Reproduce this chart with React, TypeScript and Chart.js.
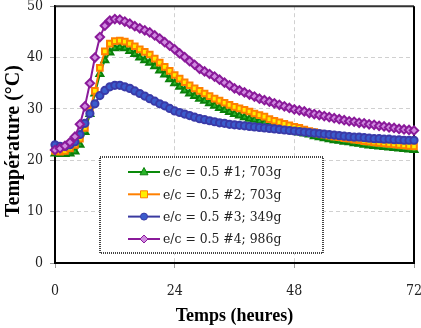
import React, { useEffect, useRef } from "react";
import { Chart, registerables } from "chart.js";

Chart.register(...registerables);

const HOURS = [
  0, 1, 2, 3, 4, 5, 6, 7, 8, 9, 10, 11, 12, 13, 14, 15, 16, 17, 18, 19, 20, 21, 22, 23, 24,
  25, 26, 27, 28, 29, 30, 31, 32, 33, 34, 35, 36, 37, 38, 39, 40, 41, 42, 43, 44, 45, 46, 47, 48,
  49, 50, 51, 52, 53, 54, 55, 56, 57, 58, 59, 60, 61, 62, 63, 64, 65, 66, 67, 68, 69, 70, 71, 72,
];

const SERIES_NAMES = [
  "e/c = 0.5 #1; 703g",
  "e/c = 0.5 #2; 703g",
  "e/c = 0.5 #3; 349g",
  "e/c = 0.5 #4; 986g",
];

const TEMP_1 = [
  21.3, 21.2, 21.2, 21.3, 21.7, 23.0, 25.5, 29.0, 33.0, 36.8, 39.5, 41.0, 41.8, 42.0, 41.8, 41.3,
  40.7, 40.0, 39.5, 39.0, 38.3, 37.5, 36.7, 35.8, 35.0, 34.3, 33.6, 33.0, 32.5, 32.0, 31.6, 31.1,
  30.6, 30.2, 29.8, 29.4, 29.0, 28.7, 28.4, 28.1, 27.9, 27.6, 27.3, 26.9, 26.6, 26.3, 26.0, 25.8,
  25.6, 25.4, 25.2, 25.0, 24.7, 24.5, 24.3, 24.1, 23.9, 23.8, 23.6, 23.5, 23.3, 23.2, 23.0, 22.9,
  22.8, 22.7, 22.6, 22.5, 22.4, 22.3, 22.2, 22.1, 22.0,
];

const TEMP_2 = [
  21.8, 21.7, 21.8, 22.3, 23.0, 24.2, 26.3, 29.7, 33.5, 38.0, 41.2, 42.7, 43.2, 43.3, 43.1, 42.7,
  42.2, 41.6, 41.1, 40.6, 39.8, 39.0, 38.2, 37.4, 36.6, 35.9, 35.2, 34.6, 34.0, 33.5, 33.0, 32.5,
  32.0, 31.6, 31.2, 30.8, 30.4, 30.1, 29.8, 29.5, 29.1, 28.8, 28.5, 28.0, 27.7, 27.4, 27.1, 26.8,
  26.5, 26.3, 26.0, 25.7, 25.5, 25.2, 25.0, 24.8, 24.6, 24.5, 24.3, 24.2, 24.0, 23.9, 23.7, 23.6,
  23.5, 23.4, 23.3, 23.2, 23.1, 23.0, 22.9, 22.8, 22.7,
];

const TEMP_3 = [
  23.0, 22.7, 22.7, 23.0, 23.6, 25.0, 27.2, 29.1, 31.0, 32.6, 33.6, 34.3, 34.6, 34.6, 34.3, 34.0,
  33.5, 33.0, 32.5, 32.0, 31.5, 31.0, 30.6, 30.1, 29.6, 29.3, 29.0, 28.7, 28.4, 28.1, 27.9, 27.7,
  27.5, 27.3, 27.2, 27.0, 26.9, 26.8, 26.7, 26.6, 26.5, 26.4, 26.3, 26.2, 26.1, 26.0, 25.9, 25.8,
  25.7, 25.6, 25.5, 25.4, 25.3, 25.2, 25.1, 25.0, 24.9, 24.8, 24.7, 24.6, 24.5, 24.5, 24.4, 24.3,
  24.2, 24.2, 24.1, 24.1, 24.0, 24.0, 23.9, 23.9, 23.9,
];

const TEMP_4 = [
  22.0, 22.3, 22.8, 23.5, 24.6, 27.0, 30.5, 35.0, 40.0, 44.0, 46.2, 47.2, 47.5, 47.4, 47.0, 46.6,
  46.1, 45.7, 45.3, 44.9, 44.3, 43.7, 43.0, 42.3, 41.6, 40.8, 40.1, 39.3, 38.6, 37.8, 37.3, 36.8,
  36.3, 35.7, 35.1, 34.6, 34.0, 33.6, 33.2, 32.8, 32.4, 32.0, 31.7, 31.4, 31.1, 30.8, 30.5, 30.2,
  29.9, 29.7, 29.5, 29.2, 29.0, 28.8, 28.6, 28.4, 28.2, 28.0, 27.8, 27.6, 27.5, 27.3, 27.2, 27.0,
  26.9, 26.7, 26.6, 26.4, 26.3, 26.1, 26.0, 25.9, 25.8,
];

const X_TITLE = "Temps (heures)";
const Y_TITLE = "Température (°C)";

const TICK_FONT = "'DejaVu Serif Condensed', 'DejaVu Serif', serif";
const LEGEND_FONT = "'DejaVu Serif', serif";
const TITLE_FONT = "'Liberation Serif', 'Times New Roman', serif";

const pts = (vals: number[]) => HOURS.map((h, i) => ({ x: h, y: vals[i] }));

export default function App() {
  const ref = useRef<HTMLCanvasElement | null>(null);

  useEffect(() => {
    document.body.style.margin = "0";
    const canvas = ref.current;
    if (!canvas) return;

    const framePlugin = {
      id: "frame",
      beforeDatasetsDraw(chart: any) {
        const { ctx, chartArea: a } = chart;
        ctx.save();
        ctx.lineWidth = 2;
        ctx.strokeStyle = "#333";
        ctx.beginPath();
        ctx.moveTo(a.left, a.top);
        ctx.lineTo(a.right, a.top);
        ctx.stroke();
        ctx.strokeStyle = "#000";
        ctx.beginPath();
        ctx.moveTo(a.left, a.top);
        ctx.lineTo(a.left, a.bottom);
        ctx.lineTo(a.right, a.bottom);
        ctx.lineTo(a.right, a.top);
        ctx.stroke();
        ctx.restore();
      },
    };

    const overlayPlugin = {
      id: "overlay",
      afterDraw(chart: any) {
        const { ctx, chartArea: a } = chart;
        ctx.save();
        ctx.fillStyle = "#000";
        ctx.textAlign = "center";
        ctx.textBaseline = "alphabetic";
        ctx.font = `bold 18px ${TITLE_FONT}`;
        ctx.fillText(X_TITLE, (a.left + a.right) / 2, 321);
        ctx.save();
        ctx.translate(19, 141);
        ctx.rotate(-Math.PI / 2);
        ctx.font = `bold 20px ${TITLE_FONT}`;
        ctx.fillText(Y_TITLE, 0, 0);
        ctx.restore();

        // legend box
        const bx = 100, by = 157, bw = 223, bh = 96;
        ctx.fillStyle = "#fff";
        ctx.fillRect(bx, by, bw, bh);
        ctx.strokeStyle = "#444";
        ctx.lineWidth = 2;
        ctx.setLineDash([1, 1]);
        ctx.strokeRect(bx, by, bw, bh);
        ctx.setLineDash([]);

        const rows = [172, 194.3, 216.6, 239];
        chart.data.datasets.forEach((ds: any, i: number) => {
          const y = rows[i];
          ctx.strokeStyle = ds.borderColor;
          ctx.lineWidth = 2;
          ctx.beginPath();
          ctx.moveTo(128, y);
          ctx.lineTo(160, y);
          ctx.stroke();
          ctx.fillStyle = ds.pointBackgroundColor;
          ctx.strokeStyle = ds.pointBorderColor;
          ctx.lineWidth = 1;
          const r = 4;
          const cx = 144;
          ctx.beginPath();
          if (ds.pointStyle === "triangle") {
            ctx.moveTo(cx, y - r - 0.5);
            ctx.lineTo(cx + r, y + r * 0.7);
            ctx.lineTo(cx - r, y + r * 0.7);
            ctx.closePath();
          } else if (ds.pointStyle === "rect") {
            ctx.rect(cx - 3.5, y - 3.5, 7, 7);
          } else if (ds.pointStyle === "circle") {
            ctx.arc(cx, y, 3.5, 0, Math.PI * 2);
          } else {
            ctx.moveTo(cx, y - r);
            ctx.lineTo(cx + r, y);
            ctx.lineTo(cx, y + r);
            ctx.lineTo(cx - r, y);
            ctx.closePath();
          }
          ctx.fill();
          ctx.stroke();
          ctx.fillStyle = "#222";
          ctx.font = `12.4px ${LEGEND_FONT}`;
          ctx.textAlign = "left";
          ctx.textBaseline = "middle";
          ctx.fillText(ds.label, 163, y + 1);
        });
        ctx.restore();
      },
    };

    const common = { borderWidth: 2, clip: 10 };

    const chart = new Chart(canvas, {
      type: "line",
      data: {
        datasets: [
          {
            ...common,
            label: SERIES_NAMES[0],
            data: pts(TEMP_1),
            borderColor: "#0a8a0a",
            backgroundColor: "#22b022",
            pointBackgroundColor: "#2ab52a",
            pointBorderColor: "#0a800a",
            pointStyle: "triangle",
            pointRadius: 4,
            order: 3,
          },
          {
            ...common,
            label: SERIES_NAMES[1],
            data: pts(TEMP_2),
            borderColor: "#ff8000",
            backgroundColor: "#ffff00",
            pointBackgroundColor: "#ffee00",
            pointBorderColor: "#ff8000",
            pointStyle: "rect",
            pointRadius: 4,
            order: 2,
          },
          {
            ...common,
            label: SERIES_NAMES[2],
            data: pts(TEMP_3),
            borderColor: "#3a3aa0",
            backgroundColor: "#3a62d0",
            pointBackgroundColor: "#3a5ccc",
            pointBorderColor: "#3a3aa8",
            pointStyle: "circle",
            pointRadius: 3.6,
            order: 1,
          },
          {
            ...common,
            label: SERIES_NAMES[3],
            data: pts(TEMP_4),
            borderColor: "#8a1a9a",
            backgroundColor: "#d89ae8",
            pointBackgroundColor: "#d08ae0",
            pointBorderColor: "#8a1a9a",
            pointStyle: "rectRot",
            pointRadius: 4.2,
            order: 0,
          },
        ],
      },
      options: {
        responsive: false,
        animation: false,
        events: [],
        layout: { padding: { top: 6, right: 7, left: 0, bottom: 0 } },
        plugins: { legend: { display: false }, tooltip: { enabled: false } },
        scales: {
          x: {
            type: "linear",
            min: 0,
            max: 72,
            afterFit: (s: any) => {
              s.height = 65;
              s.paddingLeft = 0;
              s.paddingRight = 0;
            },
            ticks: {
              stepSize: 24,
              padding: 15,
              color: "#222",
              font: { family: TICK_FONT, size: 14 },
            },
            grid: {
              color: "#d0d0d0",
              tickColor: "#999",
              tickLength: 5,
              tickBorderDash: [],
              lineWidth: 1,
            },
            border: { display: true, color: "#000", width: 2, dash: [4, 3] },
          },
          y: {
            min: 0,
            max: 50,
            afterFit: (s: any) => {
              s.width = 55;
              s.paddingTop = 0;
              s.paddingBottom = 0;
            },
            ticks: {
              stepSize: 10,
              padding: 7,
              color: "#222",
              font: { family: TICK_FONT, size: 14 },
            },
            grid: {
              color: "#d0d0d0",
              tickColor: "#999",
              tickLength: 5,
              tickBorderDash: [],
              lineWidth: 1,
            },
            border: { display: true, color: "#000", width: 2, dash: [4, 3] },
          },
        },
      },
      plugins: [framePlugin, overlayPlugin],
    } as any);

    return () => chart.destroy();
  }, []);

  return (
    <div style={{ width: 421, height: 328, background: "#fff" }}>
      <canvas ref={ref} width={421} height={328} style={{ display: "block" }} />
    </div>
  );
}
